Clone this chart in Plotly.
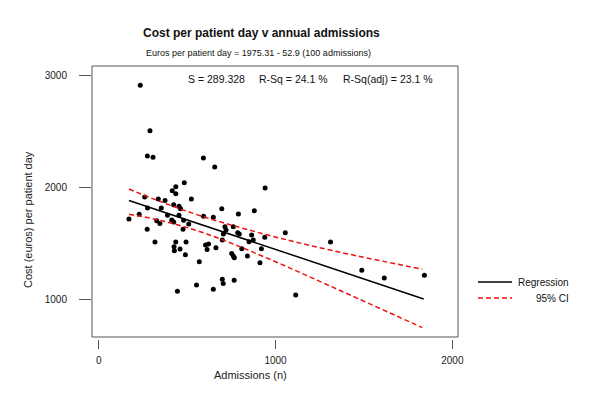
import plotly.graph_objects as go

# ---- data ----
admissions = [235, 290, 275, 307, 592, 484, 436, 416, 436, 260, 337, 375, 524, 656, 941,
              424, 454, 463, 276, 354, 229, 171, 389, 454, 328, 346, 413, 424, 480, 509,
              274, 477, 593, 318, 436, 494, 426, 428, 460, 490, 569, 604, 621, 613, 553,
              445, 648, 696, 790, 880, 714, 720, 761, 705, 699, 786, 795, 865, 850, 874,
              939, 1055, 663, 809, 920, 752, 761, 767, 841, 912, 699, 704, 766, 648, 1114,
              1311, 1488, 1615, 1842]
cost = [2916, 2509, 2283, 2271, 2265, 2044, 2008, 1972, 1945, 1916, 1898, 1885, 1898, 2184, 1996,
        1847, 1833, 1811, 1817, 1817, 1762, 1719, 1752, 1752, 1704, 1679, 1710, 1692, 1707, 1674,
        1627, 1627, 1743, 1513, 1513, 1513, 1471, 1435, 1450, 1399, 1337, 1486, 1495, 1446, 1128,
        1072, 1734, 1811, 1764, 1793, 1650, 1620, 1650, 1585, 1531, 1596, 1585, 1576, 1516, 1531,
        1555, 1596, 1462, 1453, 1453, 1410, 1388, 1372, 1388, 1328, 1180, 1141, 1170, 1090, 1038,
        1513, 1260, 1191, 1215]

reg_x = [171, 1838]
reg_y = [1885, 1003]

ci_x = [171, 350, 600, 950, 1308, 1830]
ci_upper = [1987, 1874, 1735, 1578, 1441, 1269]
ci_lower = [1761, 1706, 1591, 1370, 1119, 746]

x_ticks = [0, 1000, 2000]
y_ticks = [1000, 2000, 3000]

title = "Cost per patient day v annual admissions"
subtitle = "Euros per patient day = 1975.31 - 52.9 (100 admissions)"
stats = ["S = 289.328", "R-Sq = 24.1 %", "R-Sq(adj) = 23.1 %"]

FONT = "Arial, Liberation Sans, sans-serif"
W, H = 600, 402
L, R, T, B = 92, 142, 66, 63
PW, PH = W - L - R, H - T - B


def px(xp):
    return (xp - L) / PW


def py(yp):
    return (H - B - yp) / PH


fig = go.Figure()
fig.add_trace(go.Scatter(x=admissions, y=cost, mode="markers",
                         marker=dict(color="black", size=5), showlegend=False))
fig.add_trace(go.Scatter(x=reg_x, y=reg_y, mode="lines",
                         line=dict(color="black", width=1.5), showlegend=False))
for arr in (ci_upper, ci_lower):
    fig.add_trace(go.Scatter(x=ci_x, y=arr, mode="lines", line_shape="spline",
                             line=dict(color="#ee1111", width=1.5, dash="5px,3px"),
                             showlegend=False))

fig.update_layout(
    width=W, height=H,
    margin=dict(l=L, r=R, t=T, b=B, pad=0),
    paper_bgcolor="white", plot_bgcolor="white",
    font=dict(family=FONT, size=10, color="#222"),
    xaxis=dict(range=[-38, 2032], tickvals=x_ticks, showgrid=False, zeroline=False,
               showline=False, ticks="outside", ticklen=9, tickcolor="#555",
               anchor="free", position=0, ticklabelstandoff=3,
               tickfont=dict(size=10, color="#222")),
    yaxis=dict(range=[662, 3089], tickvals=y_ticks, showgrid=False, zeroline=False,
               showline=False, ticks="outside", ticklen=12, tickcolor="#555",
               domain=[2 / PH, 1], ticklabelstandoff=10,
               tickfont=dict(size=10, color="#222")),
)

# frame
fig.add_shape(type="rect", xref="x domain", yref="y domain", x0=0, x1=1, y0=0, y1=1,
              line=dict(color="#555", width=1))

ann = []
ann.append(dict(text="<b>" + title + "</b>", x=px(261), y=py(33), xref="paper", yref="paper",
                showarrow=False, font=dict(size=12, color="#111", family=FONT),
                xanchor="center", yanchor="middle"))
ann.append(dict(text=subtitle, x=px(258), y=py(53), xref="paper", yref="paper",
                showarrow=False, font=dict(size=9, color="#111"),
                xanchor="center", yanchor="middle"))
for t, x0 in zip(stats, [186, 256.5, 340.5]):
    ann.append(dict(text=t, x=px(x0), y=py(79), xref="paper", yref="paper",
                    showarrow=False, font=dict(size=10.5, color="#111"),
                    xanchor="left", yanchor="middle"))
ann.append(dict(text="Admissions (n)", x=px(250), y=py(375), xref="paper", yref="paper",
                showarrow=False, font=dict(size=11, color="#222"),
                xanchor="center", yanchor="middle"))
ann.append(dict(text="Cost (euros) per patient day", x=px(28), y=py(220), xref="paper",
                yref="paper", showarrow=False, textangle=-90,
                font=dict(size=11, color="#222"), xanchor="center", yanchor="middle"))
# legend
ann.append(dict(text="Regression", x=px(571), y=py(282), xref="paper", yref="paper",
                showarrow=False, font=dict(size=10, color="#111"),
                xanchor="right", yanchor="middle"))
ann.append(dict(text="95% CI", x=px(571), y=py(298), xref="paper", yref="paper",
                showarrow=False, font=dict(size=10, color="#111"),
                xanchor="right", yanchor="middle"))
fig.update_layout(annotations=ann)

fig.add_shape(type="line", xref="paper", yref="paper", x0=px(478), x1=px(512),
              y0=py(282), y1=py(282), line=dict(color="black", width=1.5))
fig.add_shape(type="line", xref="paper", yref="paper", x0=px(478), x1=px(512),
              y0=py(298), y1=py(298), line=dict(color="#ee1111", width=1.5, dash="5px,3px"))

fig.write_html("out.html", config={"displayModeBar": False},
               post_script="document.body.style.margin='0px';document.body.style.padding='0px';")
